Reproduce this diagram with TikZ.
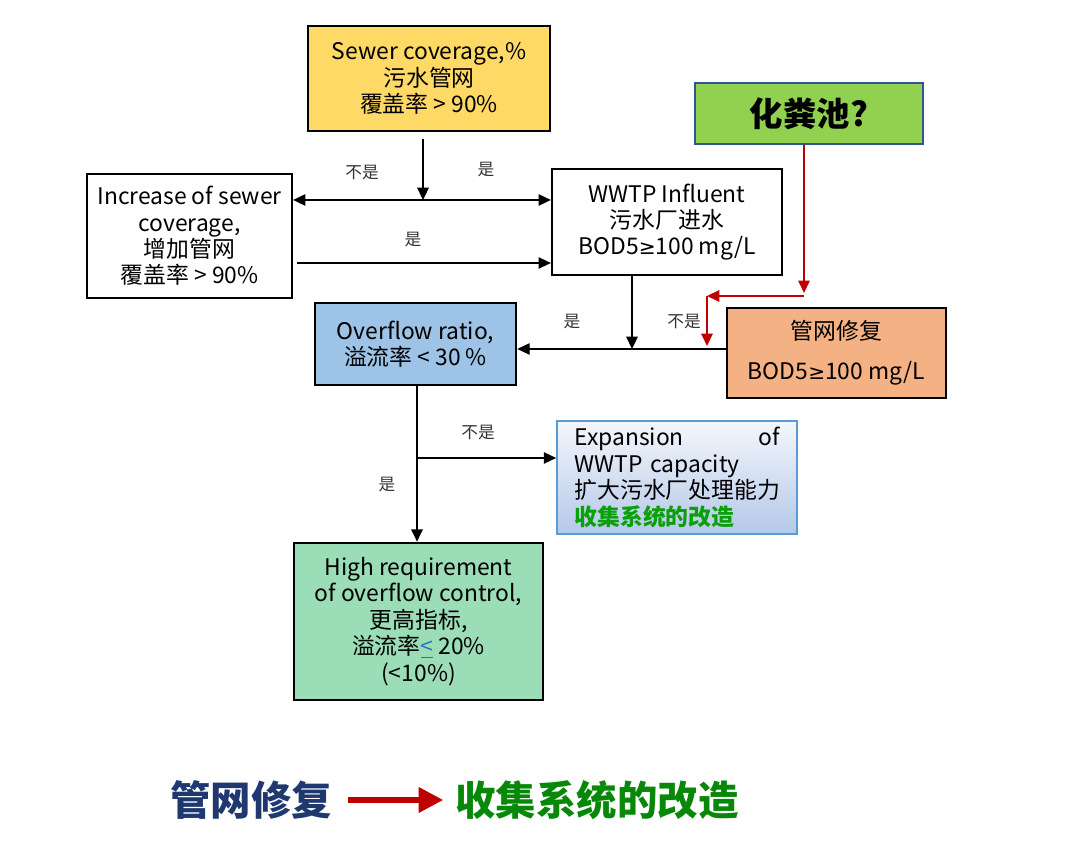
\documentclass[tikz,border=0pt]{standalone}
\usepackage{fontspec}
\setmainfont{Noto Sans CJK SC}
\newfontfamily\symfont{DejaVu Sans}
\usetikzlibrary{arrows.meta, positioning}

\definecolor{sewerfill}{HTML}{FFD966}
\definecolor{septicfill}{HTML}{92D050}
\definecolor{septicline}{HTML}{2F5597}
\definecolor{repairfill}{HTML}{F4B183}
\definecolor{flowfill}{HTML}{9DC3E6}
\definecolor{highfill}{HTML}{9BDDB6}
\definecolor{expline}{HTML}{5B9BD5}
\definecolor{exptop}{HTML}{F4F7FC}
\definecolor{expbottom}{HTML}{B4C8E8}
\definecolor{darkred}{HTML}{C00000}
\definecolor{textgreen}{HTML}{0AA00A}
\definecolor{navy}{HTML}{1F3870}
\definecolor{ltblue}{HTML}{2E75B6}

\newcommand{\atleast}{{\symfont\fontsize{11.5}{15}\selectfont ≥}}

\begin{document}
\begin{tikzpicture}[
    box/.style = {draw, line width=1.5pt, align=center, inner sep=2pt,
                  font=\fontsize{13}{15}\selectfont},
    tag/.style = {font=\fontsize{9.5}{11}\selectfont, text=black!80},
    arrow/.style = {-{Triangle[length=7pt,width=6.5pt]}, line width=1.1pt},
    thinarrow/.style = {-{Triangle[length=7pt,width=6.5pt]}, line width=0.7pt},
    botharrow/.style = {{Triangle[length=7pt,width=6.5pt]}-{Triangle[length=7pt,width=6.5pt]}, line width=0.9pt},
    redarrow/.style = {-{Triangle[length=7pt,width=6.5pt]}, line width=0.9pt, darkred},
    legend/.style = {inner sep=0pt, font=\fontsize{23}{26}\selectfont\bfseries}
  ]
  \useasboundingbox (0,0) rectangle (21.6,16.84);

  % Boxes
  \node[box, fill=sewerfill, minimum width=4.84cm, minimum height=2.1cm] (sewer) at (8.58,15.27)
    {Sewer coverage,\%\\污水管网\\覆盖率 > 90\%};
  \node[box, line width=1.3pt, minimum width=4.1cm, minimum height=2.48cm] (incr) at (3.79,12.12)
    {Increase of sewer\\coverage,\\增加管网\\覆盖率 > 90\%};
  \node[box, line width=1.3pt, minimum width=4.6cm, minimum height=2.12cm] (wwtp) at (13.34,12.4)
    {WWTP Influent\\污水厂进水\\BOD5\atleast100 mg/L};
  \node[box, draw=septicline, line width=0.7pt, fill=septicfill, minimum width=4.56cm,
        minimum height=1.22cm, font=\fontsize{19}{22}\selectfont\bfseries] (septic) at (16.18,14.57)
    {化粪池?};
  \node[box, fill=repairfill, minimum width=4.38cm, minimum height=1.8cm] (repair) at (16.73,9.78)
    {管网修复\\[8pt]BOD5\atleast100 mg/L};
  \node[box, fill=flowfill, minimum width=4.02cm, minimum height=1.64cm] (overflow) at (8.31,9.96)
    {Overflow ratio,\\溢流率 < 30 \%};
  \node[box, draw=expline, line width=1pt, top color=exptop, bottom color=expbottom,
        minimum width=4.8cm, minimum height=2.26cm, text width=4.1cm, align=left] (expand) at (13.54,7.29)
    {\makebox[4.1cm][l]{Expansion\hfill of}\\WWTP capacity\\扩大污水厂处理能力\\{\bfseries\color{textgreen}收集系统的改造}};
  \node[box, fill=highfill, minimum width=4.98cm, minimum height=3.14cm] (high) at (8.37,4.41)
    {High requirement\\of overflow control,\\更高指标,\\溢流率\textcolor{ltblue}{\underline{<}} 20\%\\(<10\%)};

  % Branch points
  \coordinate (split1) at (8.46,12.84);
  \coordinate (incrout) at (5.94,11.58);
  \coordinate (join1) at (12.64,9.86);
  \coordinate (split2) at (8.34,7.68);
  \coordinate (r1) at (16.08,10.98);
  \coordinate (r2) at (14.14,10.92);
  \coordinate (r3) at (14.14,9.92);

  % Arrows
  \draw[arrow, shorten <=4pt] (sewer.south -| split1) -- (split1);
  \draw[botharrow] (split1 -| incr.east) -- (split1 -| wwtp.west);
  \draw[thinarrow] (incrout) -- (incrout -| wwtp.west);
  \draw[arrow] (wwtp.south -| join1) -- (join1);
  \draw[thinarrow] (join1 -| repair.west) -- (join1 -| overflow.east);
  \draw[redarrow] (septic.south -| r1) -- (r1);
  \draw[redarrow] (r1 |- r2) -- (r2);
  \draw[redarrow] (r2) -- (r3);
  \draw[arrow] (overflow.south -| split2) -- (split2 |- high.north);
  \draw[thinarrow] (split2) -- (split2 -| expand.west);

  % Labels
  \node[tag] (no1) at (7.24,13.38) {不是};
  \node[tag] (yes1) at (9.72,13.44) {是};
  \node[tag] (yes2) at (8.26,12.04) {是};
  \node[tag] (yes3) at (11.44,10.40) {是};
  \node[tag] (no2) at (13.68,10.40) {不是};
  \node[tag] (no3) at (9.56,8.18) {不是};
  \node[tag] (yes4) at (7.74,7.14) {是};

  % Legend
  \node[legend, text=navy] (leg1) at (5.02,0.84) {管网修复};
  \node[legend, text=textgreen!85!black, right=2.46cm of leg1] (leg2) {收集系统的改造};
  \draw[-{Triangle[length=14pt,width=14pt]}, line width=3pt, darkred,
        shorten <=0.32cm, shorten >=0.24cm] (leg1) -- (leg2);
\end{tikzpicture}
\end{document}
